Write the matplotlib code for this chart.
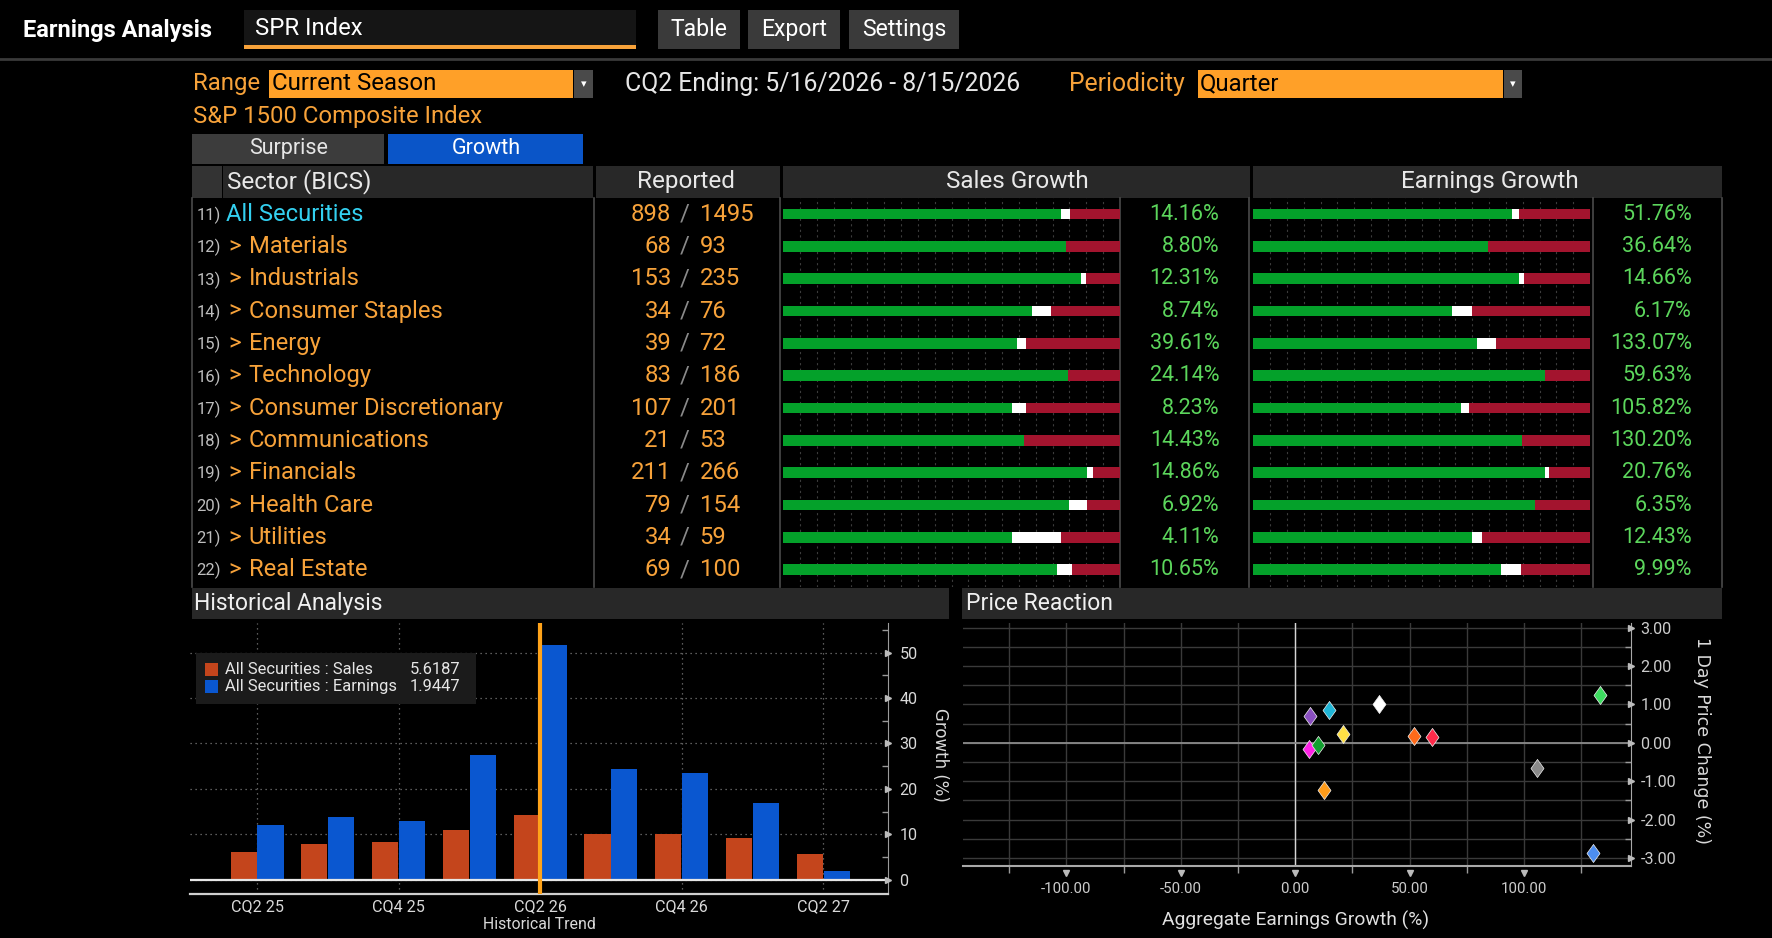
import numpy as np
import matplotlib
matplotlib.use('Agg')
import matplotlib.pyplot as plt
from matplotlib.patches import Rectangle

# ---------------- data ----------------
sectors      = ['All Securities', 'Materials', 'Industrials', 'Consumer Staples', 'Energy',
                'Technology', 'Consumer Discretionary', 'Communications', 'Financials',
                'Health Care', 'Utilities', 'Real Estate']
row_ids      = [f'{i})' for i in range(11, 23)]
reported     = [898, 68, 153, 34, 39, 83, 107, 21, 211, 79, 34, 69]
constituents = [1495, 93, 235, 76, 72, 186, 201, 53, 266, 154, 59, 100]

sales_growth = [14.16, 8.80, 12.31, 8.74, 39.61, 24.14, 8.23, 14.43, 14.86, 6.92, 4.11, 10.65]
earn_growth  = [51.76, 36.64, 14.66, 6.17, 133.07, 59.63, 105.82, 130.20, 20.76, 6.35, 12.43, 9.99]

# share of reporters beating / in line (rest missed), in %
sales_beat   = [82.4, 83.9, 88.3, 73.8, 69.5, 84.7, 68.0, 71.6, 90.2, 85.0, 68.0, 81.3]
sales_inline = [2.7, 0.0, 1.5, 5.7, 2.6, 0.0, 4.2, 0.0, 1.7, 5.2, 14.4, 4.5]
earn_beat    = [76.7, 69.7, 79.0, 59.0, 66.4, 86.6, 61.6, 79.9, 86.6, 83.7, 64.8, 73.5]
earn_inline  = [2.1, 0.0, 1.5, 5.9, 5.6, 0.0, 2.6, 0.0, 1.1, 0.0, 3.0, 5.9]

quarters   = ['CQ2 25', 'CQ3 25', 'CQ4 25', 'CQ1 26', 'CQ2 26', 'CQ3 26', 'CQ4 26', 'CQ1 27', 'CQ2 27']
hist_sales = [6.16, 7.84, 8.36, 10.92, 14.16, 10.04, 10.04, 9.24, 5.6187]
hist_earn  = [11.95, 13.86, 12.83, 27.35, 51.76, 24.34, 23.46, 16.94, 1.9447]
current_q  = 'CQ2 26'

price_chg    = [0.19, 1.00, 0.86, -0.16, 1.24, 0.14, -0.66, -2.88, 0.23, 0.70, -1.23, -0.05]
point_colors = ['#ff6a1a', '#ffffff', '#1fb5d6', '#ff22e6', '#3ddc60', '#ff2a4a',
                '#8a8a8a', '#4d8ef0', '#ffe045', '#8a4fc0', '#ff9c1a', '#12a030']

buttons = [('Table', 582, 655), ('Export', 662, 743), ('Settings', 751, 849)]

# ---------------- look ----------------
ORANGE  = '#f7a23a'
AMBER   = '#ffa028'
CYAN    = '#33d0f0'
VALGRN  = '#5cd65c'
BARGRN  = '#04a12a'
BARRED  = '#a3142e'
SALES_C = '#c4451c'
EARN_C  = '#0a57d0'
HDR     = '#282828'

plt.rcParams['font.family'] = ['Roboto', 'DejaVu Sans']

W, H = 1568, 830          # layout units (screen is 1772x938 px)
fig = plt.figure(figsize=(17.72, 9.38), dpi=100, facecolor='black')
base = fig.add_axes([0, 0, 1, 1])
base.set_xlim(0, W)
base.set_ylim(H, 0)
base.axis('off')


def box(x0, y0, x1, y1, color, **kw):
    base.add_patch(Rectangle((x0, y0), x1 - x0, y1 - y0, facecolor=color, edgecolor='none', **kw))


def T(x, y, s, size, color='white', ha='left', va='center', **kw):
    base.text(x, y, s, fontsize=size, color=color, ha=ha, va=va, **kw)


def sub(x0, y0, x1, y1):
    return fig.add_axes([x0 / W, 1 - y1 / H, (x1 - x0) / W, (y1 - y0) / H])


def vline(x, y0, y1, color='#4a4a4a', lw=1.2):
    base.plot([x, x], [y0, y1], color=color, lw=lw)


# ---------------- top bar ----------------
T(20, 27, 'Earnings Analysis', 17, weight='bold')
box(216, 9, 563, 42, '#151515')
box(216, 40, 563, 43, ORANGE)
T(226, 25, 'SPR Index', 17.2)
for lab, a, b in buttons:
    box(a, 9, b, 43, '#3a3a3a')
    T((a + b) / 2, 26, lab, 16.6, ha='center')
base.plot([0, W], [52, 52], color='#3a3a3a', lw=2)

T(171, 74, 'Range', 17.3, ORANGE)
box(238, 62, 507, 87, AMBER)
T(241, 74, 'Current Season', 17.3, 'black')
box(508, 62, 525, 87, '#4a4a4a')
base.text(516.5, 74, '▾', color='white', fontsize=8, family='DejaVu Sans', ha='center', va='center')
T(553, 74, 'CQ2 Ending: 5/16/2026 - 8/15/2026', 17.8, '#e6e6e6')
T(946, 74, 'Periodicity', 17.8, ORANGE)
box(1060, 62, 1330, 87, AMBER)
T(1062, 74, 'Quarter', 17.3, 'black')
box(1331, 62, 1347, 87, '#4a4a4a')
base.text(1339, 74, '▾', color='white', fontsize=8, family='DejaVu Sans', ha='center', va='center')
T(171, 103, 'S&P 1500 Composite Index', 17.2, ORANGE)

box(170, 119, 340, 145, '#3c3c3c')
T(255, 131, 'Surprise', 15.5, '#e6e6e6', ha='center')
box(343, 119, 516, 145, '#0a55c8')
T(430, 131, 'Growth', 15.5, ha='center')

# ---------------- table ----------------
box(170, 147, 196, 175, '#333333')
box(197, 147, 525, 175, HDR)
box(527, 147, 690, 175, HDR)
box(693, 147, 1106, 175, HDR)
box(1109, 147, 1524, 175, HDR)
T(201, 161, 'Sector (BICS)', 17.5, '#e8e8e8')
T(607, 161, 'Reported', 17.5, '#e8e8e8', ha='center')
T(900, 161, 'Sales Growth', 17.5, '#e8e8e8', ha='center')
T(1318, 161, 'Earnings Growth', 17.5, '#e8e8e8', ha='center')

for x in [170, 526, 690, 991, 1105, 1410, 1524]:
    vline(x, 175, 519)

ROW0, PITCH = 189.5, 28.6
for i, name in enumerate(sectors):
    y = ROW0 + PITCH * i
    T(174, y + 1, row_ids[i], 12, '#bdbdbd')
    if i == 0:
        T(200, y, name, 17.1, CYAN)
    else:
        T(202, y, '>', 17.1, ORANGE)
        T(220, y, name, 17.1, ORANGE)
    T(594, y, str(reported[i]), 17.2, ORANGE, ha='right')
    T(606, y, '/', 17.2, '#8a8a8a', ha='center')
    T(619, y, str(constituents[i]), 17.2, ORANGE)
    T(1079, y, f'{sales_growth[i]:.2f}%', 15.5, VALGRN, ha='right')
    T(1497, y, f'{earn_growth[i]:.2f}%', 15.5, VALGRN, ha='right')

pos = np.arange(len(sectors))
for x0, x1, beat, inline in [(693, 991, sales_beat, sales_inline), (1109, 1407, earn_beat, earn_inline)]:
    ax = sub(x0, 175, x1, 519)
    ax.set_facecolor('none')
    beat, inline = np.array(beat), np.array(inline)
    ax.barh(pos, beat, height=0.33, color=BARGRN, zorder=2)
    ax.barh(pos, inline, left=beat, height=0.33, color='white', zorder=2)
    ax.barh(pos, 100 - beat - inline, left=beat + inline, height=0.33, color=BARRED, zorder=2)
    ax.set_xlim(0, 100)
    ax.set_ylim((519 - ROW0) / PITCH, (175 - ROW0) / PITCH)
    ax.set_xticks(np.arange(5, 100, 5))
    ax.grid(axis='x', ls=(0, (2, 3)), color='#3c3c3c', lw=0.8)
    ax.set_axisbelow(True)
    ax.tick_params(length=0, labelbottom=False, labelleft=False)
    for s in ax.spines.values():
        s.set_visible(False)

# ---------------- bottom panel headers ----------------
box(170, 520, 840, 548, HDR)
T(172, 534, 'Historical Analysis', 16.5, '#f0f0f0')
box(851, 520, 1524, 548, HDR)
T(855, 534, 'Price Reaction', 16.5, '#f0f0f0')

# ---------------- historical analysis ----------------
hx = sub(168, 551, 786, 791)
hx.set_facecolor('black')
xi = np.arange(len(quarters))
hx.bar(xi - 0.19, hist_sales, 0.37, color=SALES_C, zorder=2)
hx.bar(xi + 0.19, hist_earn, 0.37, color=EARN_C, zorder=2)
hx.axhline(0, color='#e6e6e6', lw=1.6, zorder=3)
hx.axvline(quarters.index(current_q), color='#ffa31a', lw=3, zorder=4)
hx.set_xlim(-0.95, 8.92)
hx.set_ylim(-3.15, 56.6)
hx.set_xticks(xi[::2], quarters[::2])
yt = np.arange(0, 51, 10)
hx.set_yticks(yt)
hx.set_yticks(np.arange(5, 56, 10), minor=True)
hx.yaxis.tick_right()
hx.grid(which='major', ls=(0, (1, 3)), color='#7a7a7a', lw=0.9)
hx.tick_params(axis='x', length=0, pad=4, labelsize=11.6, labelcolor='#d9d9d9')
hx.tick_params(axis='y', which='major', length=0, pad=8, labelsize=11.6, labelcolor='#d9d9d9')
hx.tick_params(axis='y', which='minor', length=4, direction='in', color='#999999', width=1)
for side in ['top', 'left']:
    hx.spines[side].set_visible(False)
hx.spines['bottom'].set_color('#cfcfcf')
hx.spines['bottom'].set_linewidth(1.6)
hx.spines['right'].set_color('#9a9a9a')
hx.plot(np.ones(len(yt)), yt, ls='none', marker='>', ms=4.5, color='#bbbbbb',
        transform=hx.get_yaxis_transform(), clip_on=False, zorder=5)
hx.set_xlabel('Historical Trend', fontsize=11.4, color='#d9d9d9', labelpad=2)

hx.add_patch(Rectangle((0.009, 0.702), 0.40, 0.188, transform=hx.transAxes,
                       facecolor='#1b1b1b', edgecolor='none', zorder=5))
for k, (lab, val, c) in enumerate([('All Securities : Sales', hist_sales[-1], SALES_C),
                                   ('All Securities : Earnings', hist_earn[-1], EARN_C)]):
    yy = 0.828 - k * 0.065
    hx.add_patch(Rectangle((0.021, yy - 0.024), 0.02, 0.048, transform=hx.transAxes,
                           facecolor=c, edgecolor='none', zorder=6))
    hx.text(0.05, yy, lab, transform=hx.transAxes, fontsize=11.9, color='#e6e6e6',
            va='center', zorder=6)
    hx.text(0.315, yy, f'{val:.4f}', transform=hx.transAxes, fontsize=11.9, color='#e6e6e6',
            va='center', zorder=6)
base.text(832, 668, 'Growth (%)', fontsize=12, color='#d9d9d9', family='DejaVu Sans',
          rotation=270, ha='center', va='center')

# ---------------- price reaction ----------------
sx = sub(852, 551, 1443, 766)
sx.set_facecolor('black')
diamond = [(0, 1), (0.72, 0), (0, -1), (-0.72, 0), (0, 1)]
for gx, py, c in zip(earn_growth, price_chg, point_colors):
    sx.plot(gx, py, ls='none', marker=diamond, ms=13, color=c, mec='#f0f0f0', mew=0.5, zorder=4)
sx.set_xlim(-145.2, 146.6)
sx.set_ylim(-3.2, 3.13)
xt = np.arange(-100, 101, 50)
yt2 = np.arange(-3, 4, 1)
sx.set_xticks(xt, [f'{v:.2f}' for v in xt])
sx.set_xticks(np.arange(-125, 146, 50), minor=True)
sx.set_yticks(yt2, [f'{v:.2f}' for v in yt2])
sx.set_yticks(np.arange(-2.5, 3.0, 1), minor=True)
sx.yaxis.tick_right()
sx.grid(which='both', color='#3a3a3a', lw=1)
sx.set_axisbelow(True)
sx.axvline(0, color='#d6d6d6', lw=1, zorder=2)
sx.axhline(0, color='#8a8a8a', lw=1.3, zorder=2)
sx.tick_params(axis='x', which='major', length=0, pad=12, labelsize=10.8, labelcolor='#cccccc')
sx.tick_params(axis='x', which='minor', length=5, color='#9a9a9a', width=1)
sx.tick_params(axis='y', which='major', length=0, pad=7, labelsize=11.6, labelcolor='#cccccc')
sx.tick_params(axis='y', which='minor', length=4, direction='in', color='#9a9a9a', width=1)
for side in ['top', 'left']:
    sx.spines[side].set_visible(False)
sx.spines['bottom'].set_color('#a8a8a8')
sx.spines['bottom'].set_linewidth(1.5)
sx.spines['right'].set_color('#a8a8a8')
sx.plot(xt, np.full(len(xt), -0.03), ls='none', marker='v', ms=5, color='#bbbbbb',
        transform=sx.get_xaxis_transform(), clip_on=False, zorder=5)
sx.plot(np.ones(len(yt2)), yt2, ls='none', marker='>', ms=4.5, color='#bbbbbb',
        transform=sx.get_yaxis_transform(), clip_on=False, zorder=5)
T(1146, 814, 'Aggregate Earnings Growth (%)', 13.9, '#e0e0e0', ha='center')
base.text(1506, 655, '1 Day Price Change (%)', fontsize=12.5, color='#d9d9d9', family='DejaVu Sans',
          rotation=270, ha='center', va='center')

fig.savefig('out.png', dpi=100, facecolor='black')
